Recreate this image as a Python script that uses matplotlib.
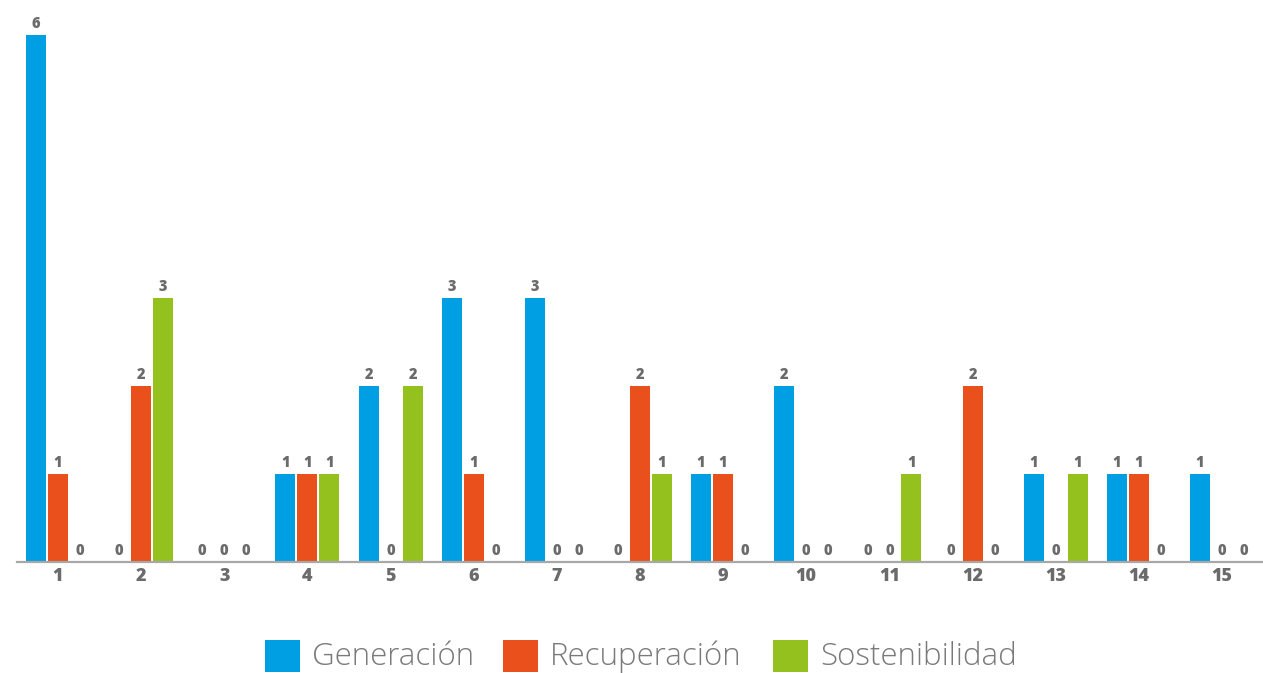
import matplotlib
matplotlib.use("Agg")
import matplotlib.pyplot as plt
from matplotlib.patches import Rectangle

groups = [str(i) for i in range(1, 16)]
series_names = ["Generación", "Recuperación", "Sostenibilidad"]
generacion = [6, 0, 0, 1, 2, 3, 3, 0, 1, 2, 0, 0, 1, 1, 1]
recuperacion = [1, 2, 0, 1, 0, 1, 0, 2, 1, 0, 0, 2, 0, 1, 0]
sostenibilidad = [0, 3, 0, 1, 2, 0, 0, 1, 0, 0, 1, 0, 1, 0, 0]
colors = ["#009FE3", "#E9501C", "#95C11F"]

W, H = 1263, 673
fig = plt.figure(figsize=(W / 100, H / 100), dpi=100)

# axes geometry in pixels
ax_left_px, ax_right_px = 17, 1263
base_px, top_px = 561.5, 35.0   # y pixel of value 0 and value 6
first_center_px, step_px = 58.0, 83.14

ax = fig.add_axes([ax_left_px / W, (H - base_px) / H,
                   (ax_right_px - ax_left_px) / W, (base_px - top_px) / H])
xmin = 1 - (first_center_px - ax_left_px) / step_px
xmax = 1 + (ax_right_px - first_center_px) / step_px
ax.set_xlim(xmin, xmax)
ax.set_ylim(0, 6)

bar_w = 20 / step_px
offset = 22 / step_px
xs = list(range(1, len(groups) + 1))
label_color = "#6b6b6b"

for k, (vals, c) in enumerate(zip([generacion, recuperacion, sostenibilidad], colors)):
    pos = [x + (k - 1) * offset for x in xs]
    ax.bar(pos, vals, width=bar_w, color=c, linewidth=0, zorder=2)
    for p, v in zip(pos, vals):
        ax.annotate(str(v), (p, v), xytext=(0, 2), textcoords="offset points",
                    ha="center", va="bottom", fontsize=10.5, fontweight="heavy",
                    color=label_color, family="Open Sans", annotation_clip=False)

ax.set_xticks(xs)
ax.set_xticklabels(groups, fontsize=13, fontweight="heavy", color=label_color,
                   family="Open Sans")
ax.tick_params(axis="x", length=0, pad=5)
ax.set_yticks([])
for s in ["top", "right", "left"]:
    ax.spines[s].set_visible(False)
ax.spines["bottom"].set_color("#a8a8a8")
ax.spines["bottom"].set_linewidth(1.6)
ax.spines["bottom"].set_zorder(3)

# legend drawn in figure pixels
legend_items = [(265, 312), (503, 550), (773, 820)]
for (sx, tx), name, c in zip(legend_items, series_names, colors):
    fig.patches.append(Rectangle((sx / W, (H - 672) / H), 35 / W, 32 / H,
                                 transform=fig.transFigure, color=c, linewidth=0))
    fig.text(tx / W, (H - 657) / H, name, fontsize=22.5, fontweight="light",
             color="#7a7a7a", family="Open Sans", ha="left", va="center")

fig.savefig("out.png", dpi=100)
